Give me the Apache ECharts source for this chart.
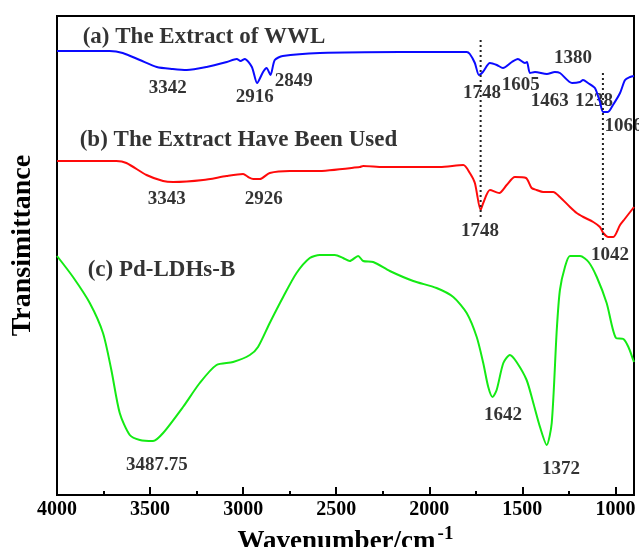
<!DOCTYPE html>
<html>
<head>
<meta charset="utf-8">
<script src="https://cdn.jsdelivr.net/npm/echarts@6/dist/echarts.min.js"></script>
<style>
  html, body { margin: 0; padding: 0; background: #fff; }
  #chart { width: 639px; height: 547px; }
</style>
</head>
<body>
<div id="chart"></div>
<script>
// wavenumber (cm-1), transmittance (arbitrary units, offset stacked)
const wwlExtract = [
  [4000,444],[3717,444],[3647,442],[3555,435],[3464,428],[3378,426],[3303,425],[3196,428],
  [3088,433],[3034,436],[3014,434],[2991,436],[2953,428],[2925,412],[2893,423],[2874,427],
  [2853,420],[2830,435],[2787,439],[2588,442],[2156,443],[1799,443],[1782,441],[1755,432],
  [1733,420],[1712,423],[1674,432],[1637,430],[1604,427],[1556,433],[1524,436],[1486,432],
  [1475,433],[1459,422],[1432,423],[1368,421],[1325,423],[1298,422],[1233,412],[1190,413],
  [1174,415],[1147,412],[1110,407],[1083,393],[1066,383],[1040,383],[1013,390],[975,402],
  [948,415],[921,418],[900,419]
];
const usedExtract = [
  [4000,334],[3681,334],[3627,332],[3519,320],[3430,314],[3376,313],[3215,315],[3089,319],
  [3000,321],[2973,318],[2946,316],[2910,316],[2857,322],[2749,324],[2606,324],[2373,328],
  [2355,329],[2248,328],[2068,328],[1943,328],[1817,330],[1782,322],[1755,312],[1724,285],
  [1710,292],[1674,305],[1624,302],[1584,310],[1540,318],[1480,317],[1450,307],[1423,305],
  [1388,303],[1334,303],[1298,298],[1244,288],[1208,282],[1172,278],[1119,273],[1083,268],
  [1065,262],[1038,258],[1011,258],[975,270],[950,276],[904,287],[900,288]
];
const pdLDHs = [
  [4000,239],[3914,218],[3824,192],[3753,162],[3708,125],[3663,82],[3609,60],[3555,55],
  [3484,54],[3430,62],[3323,88],[3233,112],[3143,130],[3054,133],[2964,140],[2920,148],
  [2857,172],[2785,198],[2713,222],[2642,237],[2588,240],[2507,240],[2463,237],[2427,234],
  [2382,239],[2355,234],[2301,233],[2212,224],[2086,214],[1961,207],[1871,198],[1799,182],
  [1745,158],[1710,132],[1683,108],[1660,98],[1638,105],[1602,132],[1567,140],[1531,133],
  [1477,115],[1441,92],[1405,68],[1369,50],[1342,72],[1315,165],[1298,205],[1271,228],
  [1244,239],[1190,239],[1144,233],[1100,218],[1047,192],[997,157],[957,156],[930,148],
  [904,135],[900,133]
];
const guide1748 = [[1724,455],[1724,275]];
const guide1066 = [[1067,422],[1067,252]];

const peakLabels = [
  [3405,407,'3342'],[2937,398,'2916'],[2728,414,'2849'],[1717,402,'1748'],[1508,410,'1605'],
  [1228,437,'1380'],[1352,394,'1463'],[1115,394,'1238'],[956,369,'1066'],
  [3410,296,'3343'],[2889,296,'2926'],[1727,264,'1748'],[1029,240,'1042'],
  [1604,80,'1642'],[1292,26,'1372'],[3464,30,'3487.75']
];
const curveTitles = [
  [3862,458,'(a) The Extract of WWL'],
  [3878,355,'(b) The Extract Have Been Used'],
  [3835,225,'(c) Pd-LDHs-B']
];
const majorTicks = [1000,1500,2000,2500,3000,3500,4000];
const minorTicks = [1250,1750,2250,2750,3250,3750];

const font = 'Liberation Serif';
const chart = echarts.init(document.getElementById('chart'));

const option = {
  animation: false,
  grid: {
    left: 57, right: 5, top: 16, bottom: 52,
    containLabel: false, outerBoundsMode: 'none',
    show: true, borderColor: '#000', borderWidth: 2
  },
  xAxis: [
    {
      type: 'value', min: 900, max: 4000, inverse: true,
      axisLine: { lineStyle: { color: '#000', width: 2 } },
      axisTick: { inside: true, length: 8, customValues: majorTicks, lineStyle: { color: '#000', width: 2 } },
      axisLabel: {
        customValues: majorTicks, margin: 5, color: '#000', formatter: v => String(v),
        fontFamily: font, fontWeight: 'bold', fontSize: 20
      },
      splitLine: { show: false },
      name: '{t|Wavenumber/cm}{s|-1}',
      nameLocation: 'middle',
      nameGap: 21,
      nameTextStyle: {
        rich: {
          t: { fontFamily: font, fontWeight: 'bold', fontSize: 27, color: '#000' },
          s: { fontFamily: font, fontWeight: 'bold', fontSize: 19, color: '#000', padding: [0, 0, 16, 2] }
        }
      }
    },
    {
      type: 'value', min: 900, max: 4000, inverse: true, position: 'bottom',
      axisLine: { show: false },
      axisTick: { inside: true, length: 4, customValues: minorTicks, lineStyle: { color: '#000', width: 2 } },
      axisLabel: { show: false },
      splitLine: { show: false }
    }
  ],
  yAxis: {
    type: 'value', min: 0, max: 479,
    axisLine: { show: true, lineStyle: { color: '#000', width: 2 } },
    axisTick: { show: false },
    axisLabel: { show: false },
    splitLine: { show: false },
    name: 'Transimittance',
    nameLocation: 'middle',
    nameGap: 20,
    nameTextStyle: { fontFamily: font, fontWeight: 'bold', fontSize: 28, color: '#000', padding: [0, 0, 0, 20] }
  },
  series: [
    { type: 'line', data: wwlExtract, showSymbol: false, smooth: 0.25, lineStyle: { color: '#0a0aff', width: 2 } },
    { type: 'line', data: usedExtract, showSymbol: false, smooth: 0.25, lineStyle: { color: '#ff0a0a', width: 2 } },
    { type: 'line', data: pdLDHs, showSymbol: false, smooth: 0.25, lineStyle: { color: '#14ea14', width: 2 } },
    { type: 'line', data: guide1748, showSymbol: false, lineStyle: { color: '#222', width: 2, type: [2, 3] } },
    { type: 'line', data: guide1066, showSymbol: false, lineStyle: { color: '#222', width: 2, type: [2, 3] } },
    {
      type: 'scatter', data: peakLabels, symbolSize: 0,
      label: {
        show: true, position: 'inside', formatter: p => p.data[2],
        color: '#000', fontFamily: font, fontWeight: 'bold', fontSize: 19
      }
    },
    {
      type: 'scatter', data: curveTitles, symbolSize: 0,
      label: {
        show: true, position: 'inside', align: 'left', formatter: p => p.data[2],
        color: '#000', fontFamily: font, fontWeight: 'bold', fontSize: 23
      }
    }
  ]
};
chart.setOption(option);
</script>
</body>
</html>
